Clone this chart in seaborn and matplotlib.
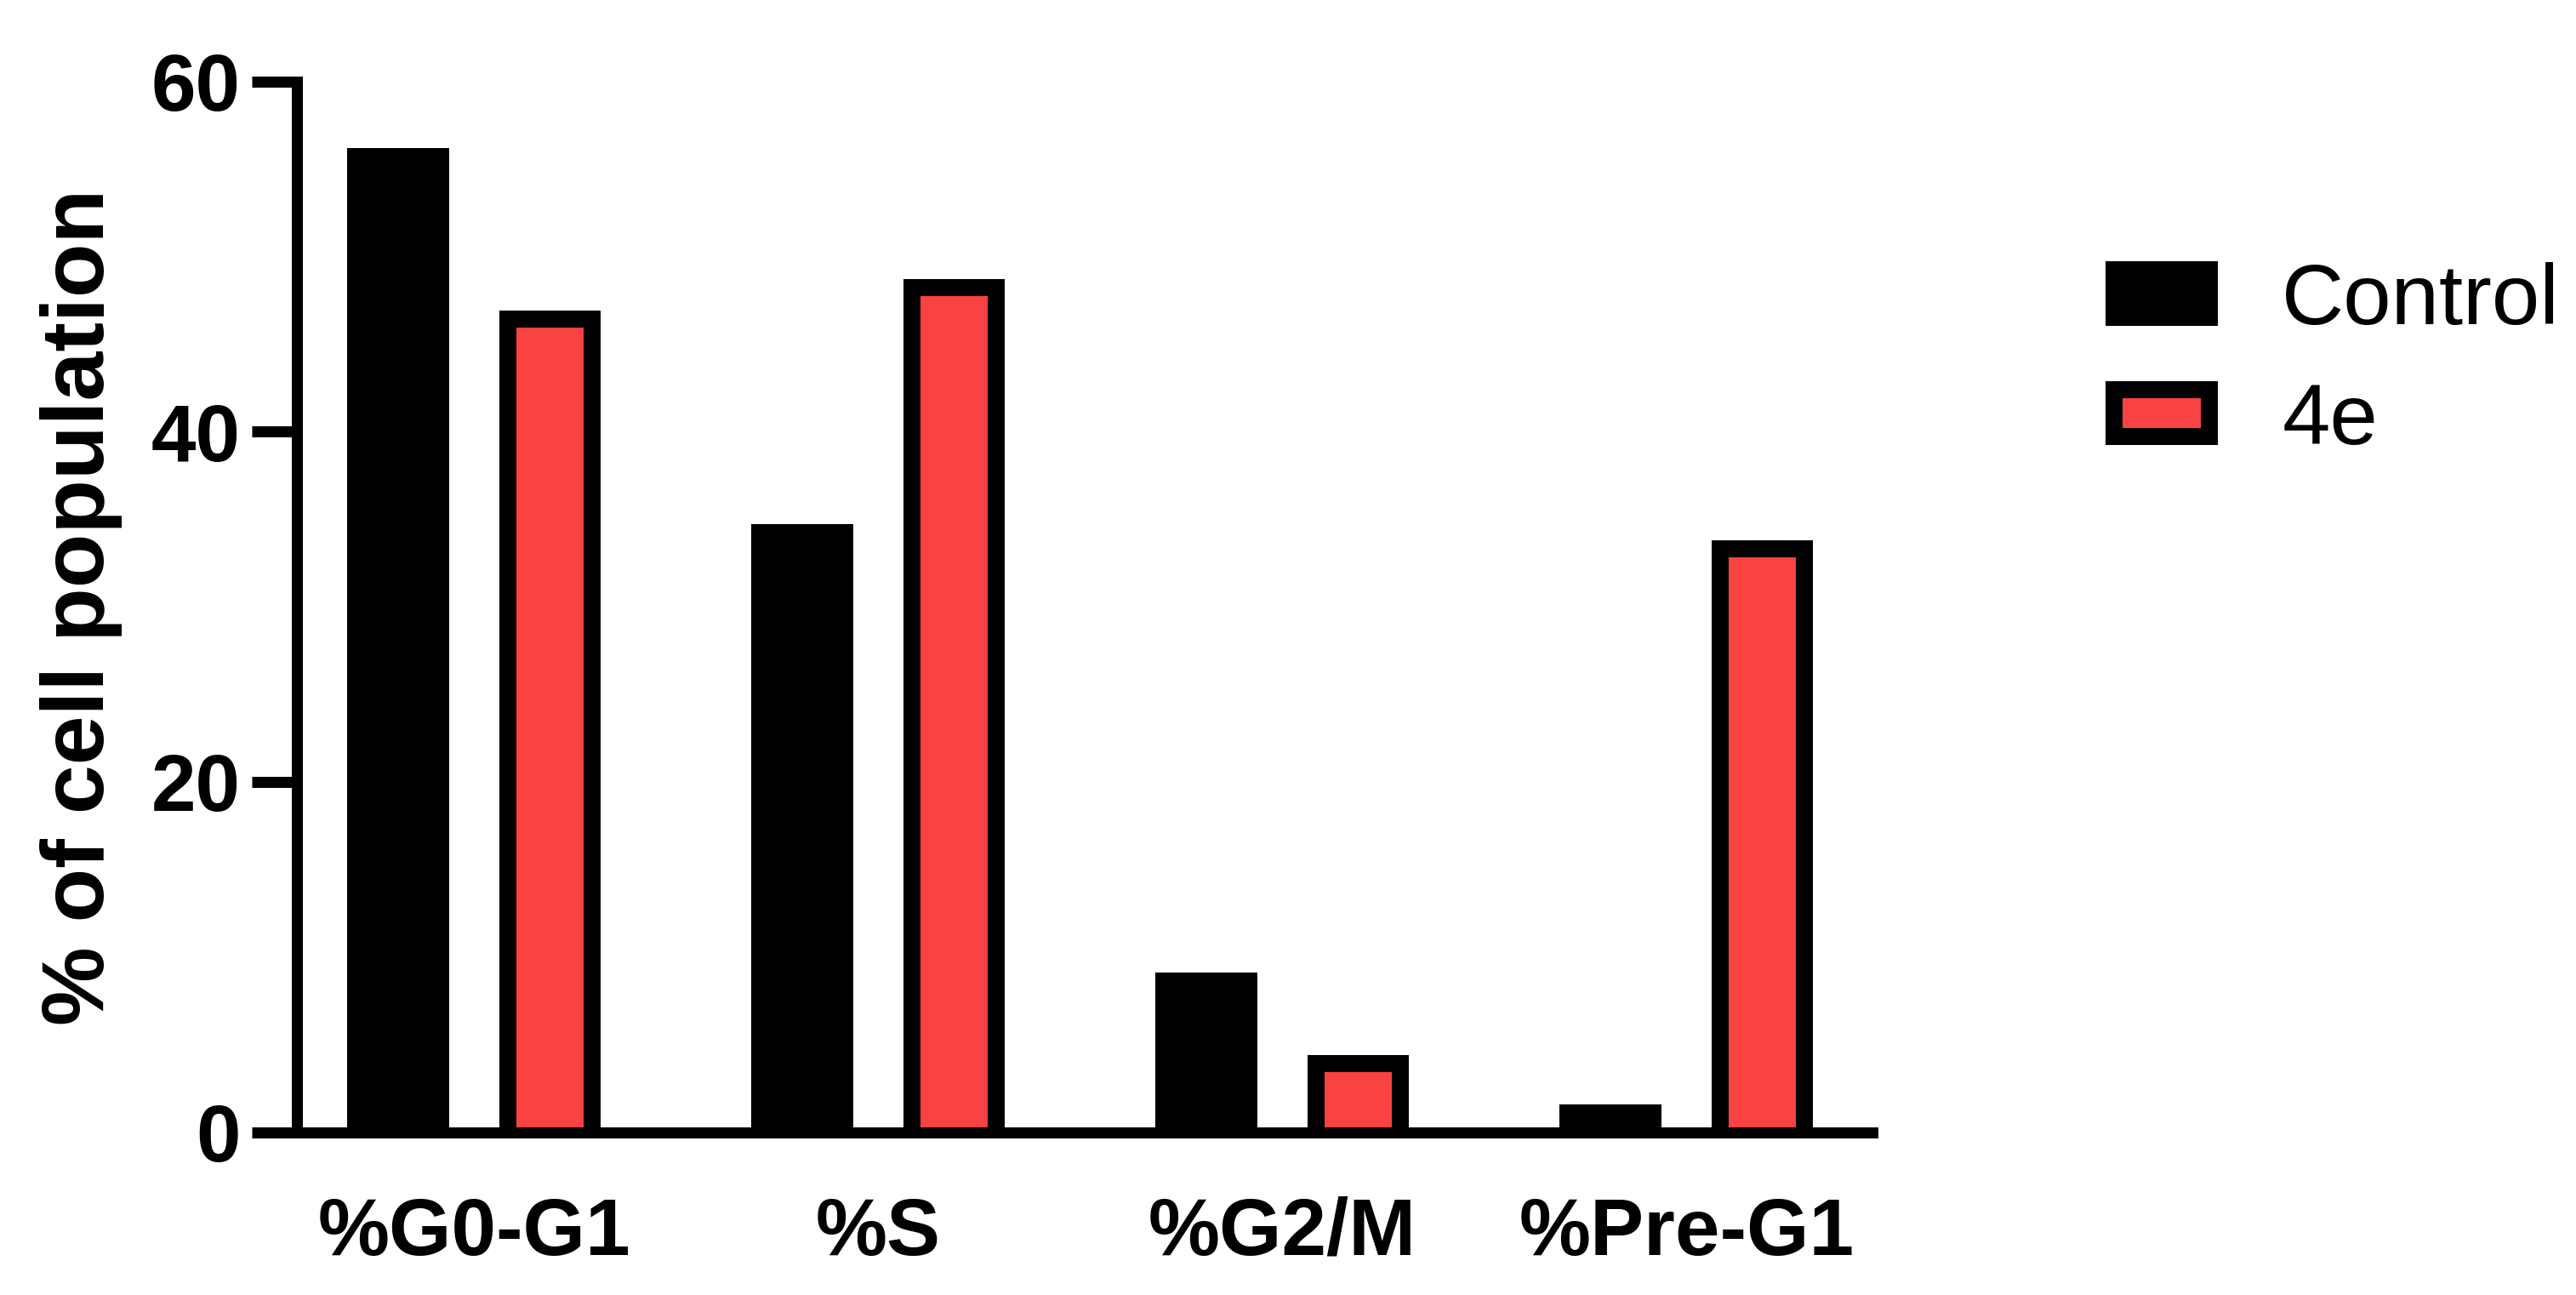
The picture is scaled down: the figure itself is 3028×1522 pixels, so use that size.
import pandas as pd
import seaborn as sns
import matplotlib.pyplot as plt
from matplotlib.patches import Patch

sns.set_style("white")
plt.rcParams['font.family'] = ['Liberation Sans', 'DejaVu Sans']
plt.rcParams['text.color'] = 'black'
plt.rcParams['xtick.color'] = 'black'
plt.rcParams['ytick.color'] = 'black'
plt.rcParams['axes.labelcolor'] = 'black'

# %% Data

phases = ['%G0-G1', '%S', '%G2/M', '%Pre-G1']
control = [56.2, 34.7, 9.1, 1.6]
treated = [46.9, 48.7, 4.4, 33.8]
groups = ['Control', '4e']
colors = ['#000000', '#F94242']

df = pd.DataFrame({
    'Phase': phases * 2,
    'Value': control + treated,
    'Group': [groups[0]] * len(phases) + [groups[1]] * len(phases),
})

# %% Plot

dpi = 200
fig = plt.figure(figsize=(3028 / dpi, 1522 / dpi), dpi=dpi)
ax = fig.add_axes([0.11542, 0.12582, 0.61146, 0.81143])

edge_lw = 7.2
sns.barplot(
    data=df, x='Phase', y='Value', hue='Group',
    order=phases, hue_order=groups, palette=colors,
    width=0.7515, gap=0.3307, saturation=1, errorbar=None,
    edgecolor='black', linewidth=edge_lw, legend=False, ax=ax,
)

ax.set_xlim(-0.4373, 3.460)
ax.set_ylim(0, 60)
ax.set_yticks([0, 20, 40, 60])

# keep the border inside each bar (bottom edge hidden below the axis)
fig.canvas.draw()
half_px = edge_lw * dpi / 72 / 2
px_per_x = ax.get_window_extent().width / (ax.get_xlim()[1] - ax.get_xlim()[0])
px_per_y = ax.get_window_extent().height / (ax.get_ylim()[1] - ax.get_ylim()[0])
dx, dy = half_px / px_per_x, half_px / px_per_y
for p in ax.patches:
    p.set_x(p.get_x() + dx)
    p.set_width(p.get_width() - 2 * dx)
    p.set_y(p.get_y() - dy)

sns.despine(ax=ax)
for side in ['left', 'bottom']:
    ax.spines[side].set_linewidth(4.68)
    ax.spines[side].set_color('black')
    ax.spines[side].set_zorder(5)

ax.tick_params(axis='y', left=True, length=19.2, width=4.68, pad=5, labelsize=34)
ax.tick_params(axis='x', bottom=False, length=0, pad=27, labelsize=34)
for lab in ax.get_xticklabels() + ax.get_yticklabels():
    lab.set_fontweight('bold')

ax.set_xlabel('')
ax.set_ylabel('% of cell population', fontsize=37.5, fontweight='bold', labelpad=12)

handles = [
    Patch(facecolor=colors[0], edgecolor='black', linewidth=edge_lw),
    Patch(facecolor=colors[1], edgecolor='black', linewidth=edge_lw),
]
fig.legend(
    handles, groups, loc='upper left',
    bbox_to_anchor=(2485 / 3028, 1 - 308 / 1522), bbox_transform=fig.transFigure,
    frameon=False, fontsize=36.5, borderpad=0, borderaxespad=0,
    handlelength=1.105, handleheight=0.4636, handletextpad=0.84, labelspacing=0.46,
)

fig.savefig('out.png', dpi=dpi, facecolor='white')
